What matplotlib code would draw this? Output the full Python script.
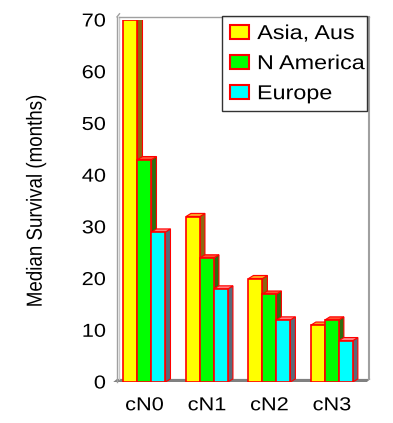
import matplotlib.pyplot as plt
from matplotlib.patches import Polygon, Patch
from matplotlib.transforms import Affine2D
import matplotlib.patheffects as pe
import numpy as np

plt.rcParams['font.family'] = ['Liberation Sans', 'DejaVu Sans']

# data
categories = ['cN0', 'cN1', 'cN2', 'cN3']
regions = ['Asia, Aus', 'N America', 'Europe']
asia = [70, 32, 20, 11]
namerica = [43, 24, 17, 12]
europe = [29, 18, 12, 8]

front_cols = ['#ffff00', '#00ff00', '#00ffff']
side_cols = ['#8a6a10', '#2e6e10', '#5a6a78']
top_cols = ['#ffa020', '#ff5030', '#ff8080']
edge = '#ff0000'


# the source picture is a bit wider than tall, so its text looks stretched
class Stretch(pe.AbstractPathEffect):
    def __init__(self, sx=1.0, sy=1.0, anchor='center'):
        super().__init__()
        self.sx, self.sy, self.anchor = sx, sy, anchor

    def draw_path(self, renderer, gc, tpath, affine, rgbFace=None):
        ext = tpath.get_extents()
        cx = {'left': ext.x0, 'center': (ext.x0 + ext.x1) / 2, 'right': ext.x1}[self.anchor]
        cy = (ext.y0 + ext.y1) / 2
        t = Affine2D().translate(-cx, -cy).scale(self.sx, self.sy).translate(cx, cy)
        renderer.draw_path(gc, tpath, t + affine, rgbFace)


SX = 1.16

fig = plt.figure(figsize=(3.93, 4.23), dpi=100)
ax = fig.add_axes([117/393, 41/423, 253/393, 362/423])
ax.set_xlim(-0.44, 3.61)
ax.set_ylim(0, 70)

w = 0.224      # bar width in category units
dx = 0.08      # depth offset (x)
dy = 0.6       # depth offset (y)

x = np.arange(len(categories))
series = [asia, namerica, europe]

# back wall / floor frame
gray = '#a0a0a0'
ax.plot([-0.44, -0.44], [0, 70.6], color=gray, lw=1, clip_on=False)
ax.plot([-0.40, -0.40], [0.6, 70.6], color='#c8c8c8', lw=1, clip_on=False)
ax.plot([-0.44, -0.40], [70.6, 71.2], color=gray, lw=1, clip_on=False)
ax.plot([-0.40, 3.60], [70.6, 70.6], color=gray, lw=1, clip_on=False)
ax.plot([3.60, 3.60], [0.6, 70.6], color=gray, lw=1.5, clip_on=False)
ax.fill([-0.50, 3.56, 3.62, -0.44], [0, 0, 0.6, 0.6], color='#808080',
        lw=0, clip_on=False, zorder=1)

for i, vals in enumerate(series):
    xs = x + (i - 1) * w
    ax.bar(xs, vals, width=w, color=front_cols[i], edgecolor=edge,
           linewidth=1.2, zorder=3 + i, label=regions[i])
    for xc, v in zip(xs, vals):
        x0, x1 = xc - w / 2, xc + w / 2
        side = Polygon([[x1, 0], [x1 + dx, dy], [x1 + dx, v + dy], [x1, v]],
                       closed=True, facecolor=side_cols[i], edgecolor=edge,
                       lw=0.8, zorder=2 + i)
        top = Polygon([[x0, v], [x0 + dx, v + dy], [x1 + dx, v + dy], [x1, v]],
                      closed=True, facecolor=top_cols[i], edgecolor=edge,
                      lw=0.8, zorder=2 + i)
        ax.add_patch(side)
        ax.add_patch(top)

for s in ax.spines.values():
    s.set_visible(False)

ax.set_xticks(x)
ax.set_xticklabels(categories, fontsize=13.5)
ax.set_yticks(range(0, 71, 10))
ax.tick_params(axis='both', length=0, labelsize=13.5)
ax.tick_params(axis='y', pad=8)
ax.tick_params(axis='x', pad=11)
for lab in ax.get_xticklabels():
    lab.set_path_effects([Stretch(SX, anchor='center')])
for lab in ax.get_yticklabels():
    lab.set_path_effects([Stretch(SX, anchor='right')])

ylab = ax.set_ylabel('Median Survival (months)', fontsize=13.5)
ylab.set_path_effects([Stretch(1.0, SX)])
ax.yaxis.set_label_coords(-0.285, 0.5)

handles = [Patch(facecolor=front_cols[i], edgecolor=edge, lw=1.5, label=regions[i])
           for i in range(3)]
leg = fig.legend(handles=handles, loc='upper left', mode='expand',
                 bbox_to_anchor=(222/393, 1 - 16/423, 145/393, 0),
                 fontsize=14.5, fancybox=False, frameon=True, edgecolor='black',
                 handlelength=0.95, handleheight=0.65, handletextpad=0.4,
                 borderpad=0.4, labelspacing=0.55, borderaxespad=0)
leg.get_frame().set_linewidth(1)
for t in leg.get_texts():
    t.set_path_effects([Stretch(SX, anchor='left')])

fig.savefig('out.png', dpi=100)
